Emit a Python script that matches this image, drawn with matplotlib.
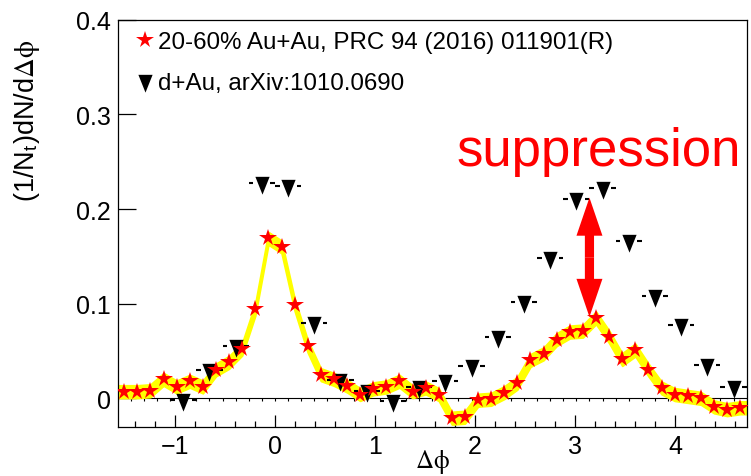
import numpy as np
import matplotlib
matplotlib.use("Agg")
import matplotlib.pyplot as plt
from matplotlib.patches import FancyArrowPatch
from matplotlib.ticker import FixedLocator, MultipleLocator

plt.rcParams['font.family'] = ['Liberation Sans', 'DejaVu Sans']
plt.rcParams['mathtext.fontset'] = 'stix'

# Azimuthal range of the correlation functions
DPHI_MIN, DPHI_MAX = -np.pi / 2, 3 * np.pi / 2

# 20-60% Au+Au per-trigger yield, 48 equal bins over the range
auau_label = "20-60% Au+Au, PRC 94 (2016) 011901(R)"
auau_yield = [0.007, 0.007, 0.008, 0.020, 0.012, 0.018, 0.012, 0.030,
              0.038, 0.052, 0.094, 0.169, 0.160, 0.099, 0.055, 0.025,
              0.020, 0.013, 0.004, 0.010, 0.012, 0.018, 0.007, 0.011,
              0.004, -0.021, -0.020, -0.002, -0.001, 0.006, 0.016, 0.040,
              0.047, 0.062, 0.070, 0.071, 0.085, 0.065, 0.041, 0.051,
              0.030, 0.011, 0.004, 0.002, 0.000, -0.009, -0.012, -0.010]

# d+Au per-trigger yield, 24 equal bins (first two bins not measured)
dau_label = "d+Au, arXiv:1010.0690"
dau_yield = [np.nan, np.nan, -0.002, 0.030, 0.055, 0.227, 0.224, 0.080,
             0.019, 0.008, -0.003, 0.012, 0.018, 0.034, 0.065, 0.102,
             0.148, 0.211, 0.222, 0.166, 0.108, 0.077, 0.035, 0.012]

x_ticks = [-1, 0, 1, 2, 3, 4]
x_tick_labels = ["\u22121", "0", "1", "2", "3", "4"]
y_ticks = [0, 0.1, 0.2, 0.3, 0.4]
y_tick_labels = ["0", "0.1", "0.2", "0.3", "0.4"]
y_range = (-0.03, 0.4)

# Away-side suppression marker: from the d+Au peak down to the Au+Au peak
arrow_x = np.pi
arrow_top = 0.212
arrow_bottom = 0.086
suppression_text = "suppression"

RED = "#ff0000"
YELLOW = "#ffff00"

fig = plt.figure(figsize=(7.51, 4.77), dpi=100)
W, H = 751.0, 477.0
ax = fig.add_axes([117.7 / W, 1 - 427.7 / H, (746.7 - 117.7) / W, (427.7 - 20.7) / H])
ax.set_xlim(DPHI_MIN, DPHI_MAX)
ax.set_ylim(*y_range)

auau = np.asarray(auau_yield)
auau_edges = np.linspace(DPHI_MIN, DPHI_MAX, len(auau) + 1)
auau_x = 0.5 * (auau_edges[:-1] + auau_edges[1:])

dau = np.asarray(dau_yield)
dau_edges = np.linspace(DPHI_MIN, DPHI_MAX, len(dau) + 1)
dau_x = 0.5 * (dau_edges[:-1] + dau_edges[1:])
dau_halfwidth = 0.5 * (dau_edges[1] - dau_edges[0])
ok = ~np.isnan(dau)

# zero reference line with small ticks at the bin edges
ax.plot(auau_edges, np.zeros_like(auau_edges), color="black", lw=0.8,
        marker=3, ms=2.5, mew=0.8, zorder=1.5)

# systematic band for Au+Au
band_half = 0.0068
band_x = np.concatenate(([DPHI_MIN], auau_x, [DPHI_MAX]))
band_y = np.concatenate(([auau[0]], auau, [auau[-1]]))
ax.fill_between(band_x, band_y - band_half, band_y + band_half,
                facecolor=YELLOW, edgecolor=YELLOW, lw=1.2, zorder=2)

# d+Au horizontal bin-width bars, split around the marker
gap = 0.085
ax.hlines(dau[ok], dau_x[ok] - dau_halfwidth, dau_x[ok] - gap,
          color="black", lw=1.5, zorder=3)
ax.hlines(dau[ok], dau_x[ok] + gap, dau_x[ok] + dau_halfwidth,
          color="black", lw=1.5, zorder=3)
tri = [(-0.8, 0.75), (0.8, 0.75), (0.0, -1.25)]
dau_line, = ax.plot(dau_x[ok], dau[ok], linestyle="none", marker=tri,
                    ms=16, color="black", mew=0, zorder=4, label=dau_label)

auau_line, = ax.plot(auau_x, auau, linestyle="none", marker="*", ms=13,
                     color=RED, mew=0, zorder=5, label=auau_label)

# double-headed arrow built from two filled arrows meeting in the middle
arrow_mid = 0.5 * (arrow_top + arrow_bottom)
for tip in (arrow_top, arrow_bottom):
    ax.add_patch(FancyArrowPatch((arrow_x, arrow_mid), (arrow_x, tip),
                                 arrowstyle="simple,head_length=27.4,head_width=18.7,tail_width=6.6",
                                 mutation_scale=1, color=RED, lw=0,
                                 shrinkA=0, shrinkB=0, zorder=6))

ax.text(1.815, 0.247, suppression_text, color=RED, fontsize=38,
        ha="left", va="baseline", zorder=7)

leg = ax.legend(handles=[auau_line, dau_line], labels=[auau_label, dau_label],
                loc="upper left", bbox_to_anchor=(0.028, 0.972),
                frameon=False, fontsize=17.4, handlelength=0.8,
                handletextpad=0.15, borderpad=0, borderaxespad=0,
                labelspacing=0.8)

ax.xaxis.set_major_locator(FixedLocator(x_ticks))
ax.set_xticklabels(x_tick_labels)
ax.xaxis.set_minor_locator(MultipleLocator(0.2))
ax.yaxis.set_major_locator(FixedLocator(y_ticks))
ax.set_yticklabels(y_tick_labels)

ax.tick_params(axis="x", which="major", direction="in", length=8.6, width=0.9,
               labelsize=18, pad=5, top=False)
ax.tick_params(axis="x", which="minor", direction="in", length=4.3, width=0.9,
               top=False)
ax.tick_params(axis="y", which="major", direction="in", length=13, width=0.9,
               labelsize=18, pad=5, right=False)
for s in ax.spines.values():
    s.set_linewidth(0.9)

fig.text(432 / W, 1 / H, r"$\mathrm{\Delta\phi}$", fontsize=18,
         ha="center", va="bottom")
fig.text(12 / W, 1 - 40 / H, r"(1/N$_{\mathregular{t}}$)dN/d$\mathrm{\Delta\phi}$",
         fontsize=19.5, rotation=90, ha="left", va="top")

fig.savefig("out.png", dpi=100)
